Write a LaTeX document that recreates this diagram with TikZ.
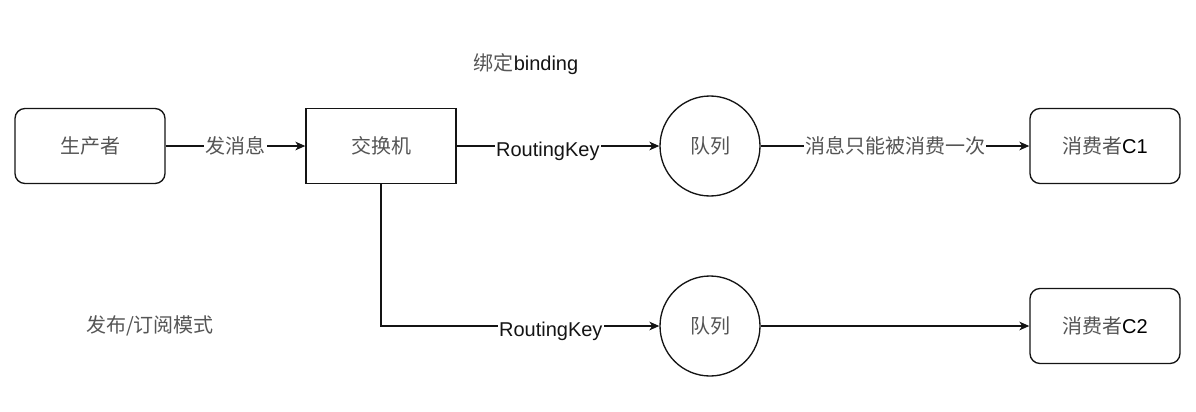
\documentclass[tikz,border=0pt]{standalone}
\usepackage{fontspec}
\setmainfont{Liberation Sans}
\newfontfamily\cjk{Noto Sans CJK SC}
\usepackage{tikz}
\usetikzlibrary{arrows.meta}
\definecolor{figink}{RGB}{20,20,20}
\definecolor{figzh}{RGB}{85,85,85}
\newcommand{\zh}[1]{{\cjk\color{figzh}#1}}
\newcommand{\fsz}{\fontsize{15}{18}\selectfont}
\tikzset{
  mqbase/.style ={draw=figink,line width=1pt,minimum width=112.5pt,minimum height=56.25pt,inner sep=0pt,font=\fsz},
  rbox/.style   ={mqbase,rounded corners=7.5pt},
  sbox/.style   ={mqbase},
  qcirc/.style  ={mqbase,circle,minimum size=75pt},
  flow/.style   ={draw=figink,line width=1pt,-{Stealth[length=7.5pt,width=6.5pt,inset=2.2pt]}},
  elab/.style   ={fill=white,inner sep=1pt,font=\fsz,text=figink},
  rklab/.style  ={elab,yshift=-3.8pt},
  ftxt/.style   ={inner sep=0pt,font=\fsz,text=figink},
}

\begin{document}
\begin{tikzpicture}[x=0.75pt,y=-0.75pt]
  \useasboundingbox (0,0) rectangle (1196,411);
  \node[rbox]  (prod) at (90,146)   {\zh{生产者}};
  \node[sbox]  (exch) at (381,146)  {\zh{交换机}};
  \node[qcirc] (qa)   at (710,146)  {\zh{队列}};
  \node[rbox]  (cona) at (1105,146) {\zh{消费者}C1};
  \node[qcirc] (qb)   at (710,326)  {\zh{队列}};
  \node[rbox]  (conb) at (1105,326) {\zh{消费者}C2};
  \node[ftxt]  (bind) at (526,64)   {\zh{绑定}binding};
  \node[ftxt]  (mode) at (150,326)  {\zh{发布/订阅模式}};
  \draw[flow] (prod) -- node[elab] {\zh{发消息}} (exch);
  \draw[flow] (exch) -- node[rklab,pos=0.45] {RoutingKey} (qa);
  \draw[flow] (qa) -- node[elab] {\zh{消息只能被消费一次}} (cona);
  \draw[flow] (exch.south) |- node[rklab,pos=0.805] {RoutingKey} (qb);
  \draw[flow] (qb) -- (conb);
\end{tikzpicture}
\end{document}
